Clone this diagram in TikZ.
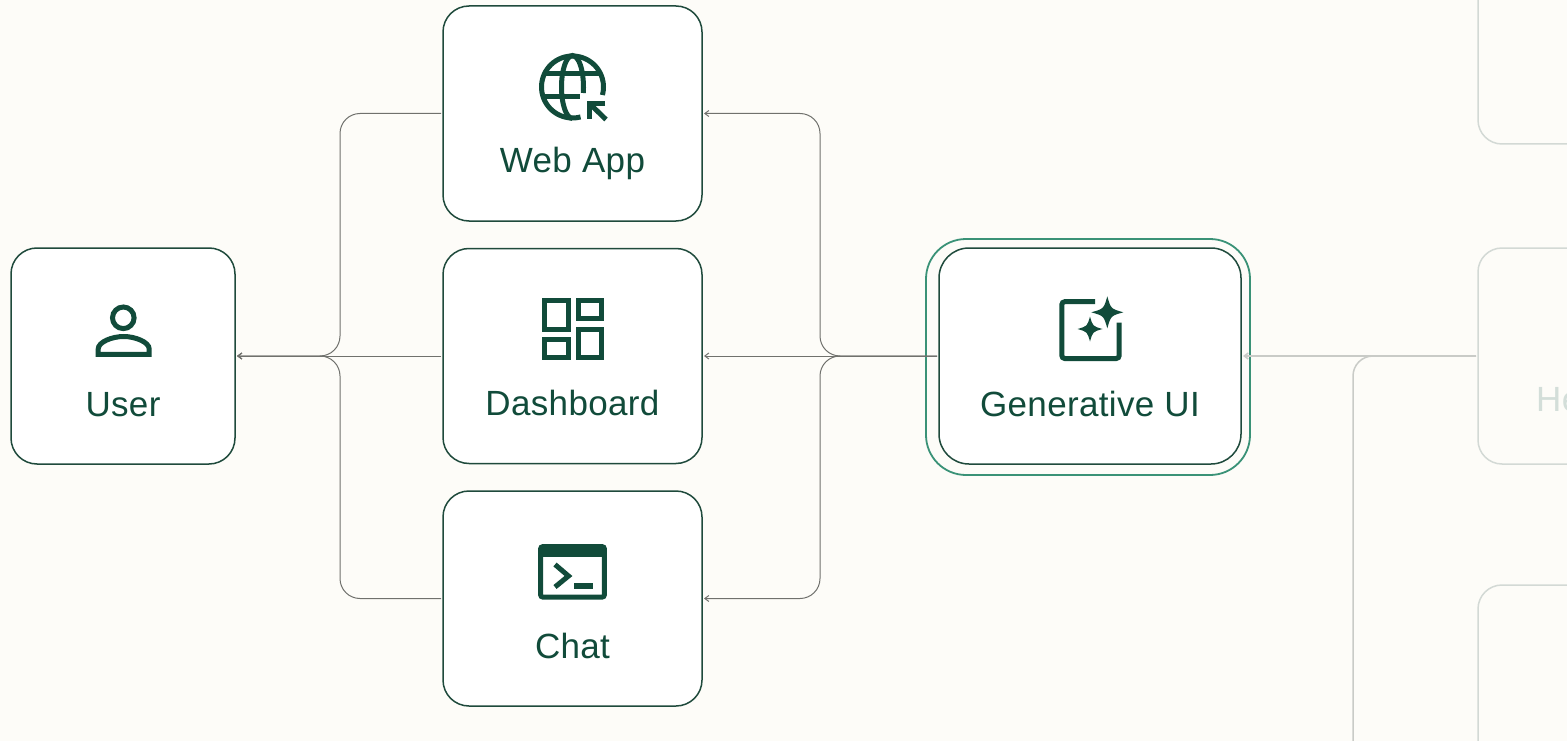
\documentclass[tikz,border=0pt]{standalone}
\usepackage{fontspec}
\setmainfont[LetterSpace=1]{Liberation Sans}
\usetikzlibrary{arrows.meta}
\definecolor{paper}{HTML}{FDFCF8}
\definecolor{pine}{HTML}{114B3A}
\definecolor{rim}{HTML}{1F4A3C}
\definecolor{halogreen}{HTML}{3A9277}
\definecolor{wire}{HTML}{70716D}
\definecolor{fadewire}{HTML}{C9CBC7}
\definecolor{faderim}{HTML}{D3D9D5}
\definecolor{fadetext}{HTML}{D3DED9}
\tikzstyle{tile} = [rectangle, rounded corners=26pt, draw=rim, line width=1.5pt, fill=white, inner sep=0pt, outer sep=2pt, minimum width=259pt, minimum height=215pt]
\tikzstyle{halo} = [rectangle, rounded corners=40pt, draw=halogreen, line width=1.8pt, inner sep=0pt, minimum width=324pt, minimum height=236pt]
\tikzstyle{ghost} = [rectangle, rounded corners=24pt, draw=faderim, line width=1.5pt, inner sep=0pt, outer sep=2pt, minimum width=244pt, minimum height=216pt]
\tikzstyle{tag} = [anchor=base, text=pine, font=\fontsize{35}{42}\selectfont, inner sep=0pt]
\tikzstyle{glyph} = [draw=pine, line width=5pt]
\tikzstyle{link} = [draw=wire, line width=1pt, rounded corners=20pt]
\tikzstyle{fadelink} = [draw=fadewire, line width=1.5pt, rounded corners=20pt]
\tikzset{>={Straight Barb[length=4pt,width=6pt]}}
\newcommand{\sparkle}[3]{\fill[pine, shift={(#1,#2)}, scale=#3] (1,0) .. controls (.22,.22) .. (0,1) .. controls (-.22,.22) .. (-1,0) .. controls (-.22,-.22) .. (0,-1) .. controls (.22,-.22) .. cycle;}
\newcommand{\usericon}{
	\draw[glyph] (123.3,317.8) circle (10.8);
	\draw[glyph] (98.2,354.3) -- (98.2,349) .. controls (98.2,342) and (112,336.5) .. (123.7,336.5) .. controls (135,336.5) and (149.2,342) .. (149.2,349) -- (149.2,354.3) -- cycle;
}
\newcommand{\globeicon}{
	\draw[glyph] (572.5,87) ++(75:31) arc (75:375:31);
	\draw[glyph] (572.5,118.5) arc (90:371:11 and 31.5);
	\draw[glyph] (544.5,73.3) -- (600.5,73.3);
	\draw[glyph] (543,97) -- (580,97);
	\draw[glyph] (605,104) -- (589.5,104) -- (589.5,119);
	\draw[glyph] (590,104) -- (606,119.5);
}
\newcommand{\boardicon}{
	\draw[glyph] (544.7,300.7) rectangle (568,329.3);
	\draw[glyph] (578,300.7) rectangle (601.3,318.7);
	\draw[glyph] (544.7,339) rectangle (568,357.6);
	\draw[glyph] (578,329) rectangle (601.3,357.6);
}
\newcommand{\termicon}{
	\draw[glyph, rounded corners=2pt] (540.7,546.7) rectangle (604.3,597);
	\fill[pine] (540,545) rectangle (605,556.7);
	\draw[glyph] (555,564.5) -- (568.5,576) -- (555,587);
	\fill[pine] (574,583.3) rectangle (592.7,588.7);
}
\newcommand{\spark}{
	\draw[glyph, rounded corners=3pt] (1095,301.7) -- (1061.8,301.7) -- (1061.8,358.5) -- (1119.2,358.5) -- (1119.2,322.7);
	\sparkle{1107.3}{312.3}{16}
	\sparkle{1090}{329}{12.5}
}

\begin{document}
\begin{tikzpicture}[x=1pt, y=1pt, yscale=-1]
	\useasboundingbox (0,0) rectangle (1567,741);
	\clip (0,0) rectangle (1567,741);
	\fill[paper] (0,0) rectangle (1567,741);

	\node [tile, minimum width=224pt, minimum height=216pt] (user) at (123,356) {};
	\node [tile] (webapp) at (572.5,113.5) {};
	\node [tile] (dash) at (572.5,356) {};
	\node [tile] (chat) at (572.5,598.5) {};
	\node [halo] (genuihalo) at (1088,357) {};
	\node [tile, minimum width=302pt, minimum height=216pt, rounded corners=30pt] (genui) at (1090,356) {};
	\node [ghost] (archive) at (1600,36) {};
	\node [ghost] (helper) at (1600,356) {};
	\node [ghost] (store) at (1600,693) {};

	\node [tag] (usertag) at (123,416) {User};
	\node [tag] (webtag) at (572.5,173) {Web App};
	\node [tag] (dashtag) at (572.5,415) {Dashboard};
	\node [tag] (chattag) at (572.5,658) {Chat};
	\node [tag] (genuitag) at (1090,416) {Generative UI};
	\node [tag, anchor=base west, text=fadetext] (helpertag) at (1536,411) {He};

	\usericon
	\globeicon
	\boardicon
	\termicon
	\spark

	\coordinate (lefttrunk) at (340,356);
	\coordinate (righttrunk) at (820,356);
	\coordinate (fadetrunk) at (1353,356);
	\coordinate (fadeend) at (1353,760);

	\draw[link, ->] (webapp.west) -| (lefttrunk) -- (user.east);
	\draw[link, ->] (chat.west) -| (lefttrunk) -- (user.east);
	\draw[link, ->] (dash.west) -- (user.east);
	\draw[link, ->] (genui.west) -- (righttrunk) |- (webapp.east);
	\draw[link, ->] (genui.west) -- (righttrunk) |- (chat.east);
	\draw[link, ->] (genui.west) -- (dash.east);
	\draw[fadelink, ->] (helper.west) -- (genui.east);
	\draw[fadelink] (fadeend) -- (fadetrunk) -- (helper.west);
\end{tikzpicture}
\end{document}
